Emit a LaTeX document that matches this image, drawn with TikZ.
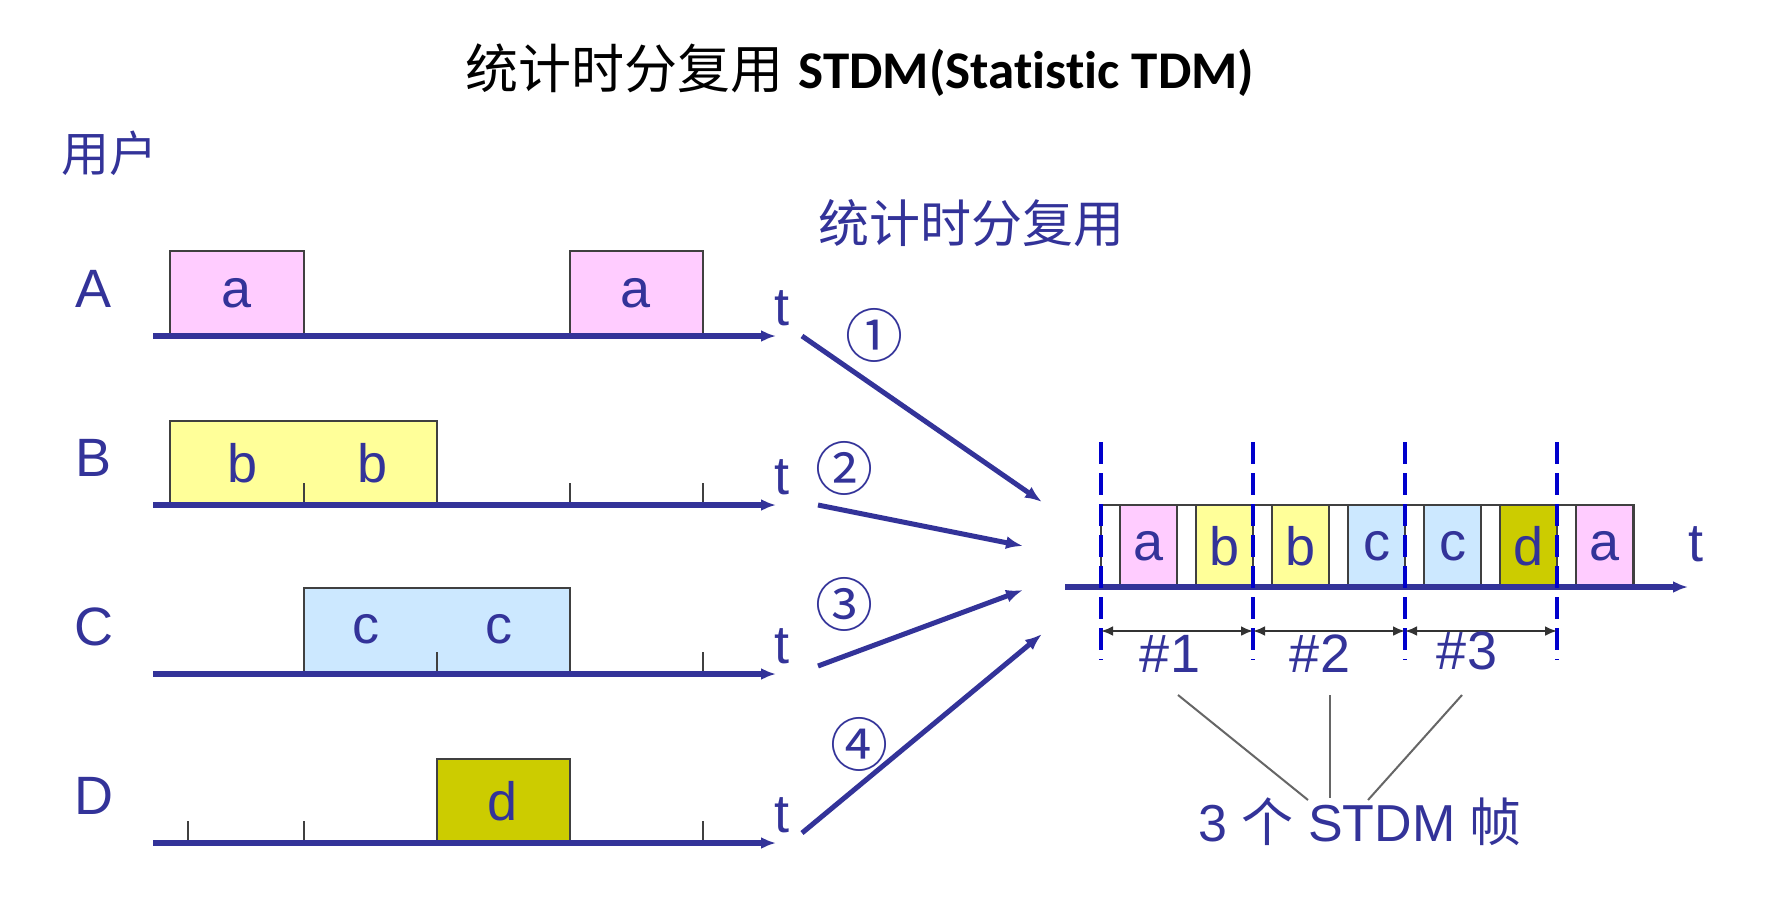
\documentclass[tikz,border=0pt]{standalone}
\usepackage{fontspec}
\setmainfont{Liberation Sans}
\newfontfamily\cjk{Noto Sans CJK SC}
\newfontfamily\titlefont[Ligatures=NoCommon]{Carlito}
\usepackage{tikz}
\usetikzlibrary{arrows.meta}

\definecolor{navy}{RGB}{51,51,153}
\definecolor{dashblue}{RGB}{0,0,204}
\definecolor{pinkA}{RGB}{255,204,255}
\definecolor{yellowB}{RGB}{255,255,153}
\definecolor{blueC}{RGB}{204,232,255}
\definecolor{oliveD}{RGB}{204,204,0}

\tikzset{
  txt/.style={text=navy,inner sep=0pt,font=\fontsize{54}{60}\selectfont},
  circnum/.style={txt,font=\cjk\fontsize{58}{64}\selectfont},
  timeaxis/.style={navy,line width=5.5pt,-{Latex[length=15pt,width=12pt]}},
  feed/.style={navy,line width=5pt,-{Latex[length=17pt,width=13pt]}},
  slot/.style={draw=black!75,line width=1.5pt},
  tickmark/.style={black!75,line width=1.5pt},
  framesep/.style={dashblue,line width=4.5pt,dash pattern=on 22pt off 9pt},
  span/.style={black!80,line width=2.5pt,{Latex[length=12pt,width=10pt]}-{Latex[length=12pt,width=10pt]}},
  lead/.style={black!60,line width=2pt},
}

\begin{document}
\begin{tikzpicture}[x=1pt,y=-1pt]
  \useasboundingbox[fill=white] (0,0) rectangle (1776,910);

  % title
  \node[font=\fontsize{53}{60}\selectfont] (title) at (860,70)
    {{\cjk 统计时分复用} {\titlefont\bfseries STDM(Statistic TDM)}};
  \node[txt,font=\cjk\fontsize{48}{56}\selectfont] (users) at (109,153) {用户};
  \node[txt,font=\cjk\fontsize{51}{56}\selectfont] (stdm) at (971,223) {统计时分复用};

  % user A
  \draw[slot,fill=pinkA] (170,251) rectangle (304,336);
  \draw[slot,fill=pinkA] (570,251) rectangle (703,336);
  \node[txt] (a1) at (237,293) {a};
  \node[txt] (a2) at (636,293) {a};
  % user B
  \draw[slot,fill=yellowB] (170,421) rectangle (437,505);
  \node[txt] (b1) at (243,463) {b};
  \node[txt] (b2) at (373,463) {b};
  \foreach \x in {304,570,703} \draw[tickmark] (\x,505) -- (\x,483);
  % user C
  \draw[slot,fill=blueC] (304,588) rectangle (570,674);
  \node[txt] (c1) at (366,629) {c};
  \node[txt] (c2) at (499,629) {c};
  \foreach \x in {437,703} \draw[tickmark] (\x,674) -- (\x,652);
  % user D
  \draw[slot,fill=oliveD] (437,759) rectangle (570,843);
  \node[txt] (d1) at (503,801) {d};
  \foreach \x in {188,304,703} \draw[tickmark] (\x,843) -- (\x,821);

  \foreach \n/\y in {A/336,B/505,C/674,D/843}{
    \coordinate (\n0) at (153,\y);
    \coordinate (\n1) at (776,\y);
    \draw[timeaxis] (\n0) -- (\n1);
    \node[txt] (lab\n) at (94,\y-47) {\n};
    \node[txt] (t\n) at (782,\y-28) {t};
  }

  % multiplexed line
  \draw[slot] (1101,505) rectangle (1634,587);
  \foreach \i/\c/\l in {0/pinkA/a,1/yellowB/b,2/yellowB/b,3/blueC/c,4/blueC/c,5/oliveD/d,6/pinkA/a}{
    \draw[slot,fill=\c] (1120+76*\i,505) rectangle +(57,82);
    \node[txt] (m\i) at (1148.5+76*\i,546) {\l};
  }
  \coordinate (M0) at (1065,587);
  \coordinate (M1) at (1688,587);
  \draw[timeaxis] (M0) -- (M1);
  \node[txt] (tM) at (1696,544) {t};

  \foreach \k in {0,...,3}{
    \draw[framesep] (1101+152*\k,442) -- (1101+152*\k,660);
    \coordinate (f\k) at (1101+152*\k,631);
  }
  \draw[span] (f0) -- (f1);
  \draw[span] (f1) -- (f2);
  \draw[span] (f2) -- (f3);
  \node[txt] (n1) at (1170,654) {\#1};
  \node[txt] (n2) at (1320,654) {\#2};
  \node[txt] (n3) at (1467,651) {\#3};

  % feeds into the multiplexer
  \coordinate (s1) at (802,336);  \coordinate (e1) at (1042,502);
  \coordinate (s2) at (818,505);  \coordinate (e2) at (1023,546);
  \coordinate (s3) at (818,666);  \coordinate (e3) at (1023,590);
  \coordinate (s4) at (802,833);  \coordinate (e4) at (1042,634);
  \foreach \i in {1,...,4} \draw[feed] (s\i) -- (e\i);
  \node[circnum] (k1) at (874,335) {①};
  \node[circnum] (k2) at (844,468) {②};
  \node[circnum] (k3) at (844,604) {③};
  \node[circnum] (k4) at (859,744) {④};

  % three frames
  \node[txt,font=\fontsize{52}{58}\selectfont] (frames) at (1360,822)
    {3 {\cjk 个} STDM {\cjk 帧}};
  \coordinate (g1) at (1178,695); \coordinate (h1) at (1308,800);
  \coordinate (g2) at (1330,695); \coordinate (h2) at (1330,798);
  \coordinate (g3) at (1462,695); \coordinate (h3) at (1368,800);
  \foreach \i in {1,2,3} \draw[lead] (g\i) -- (h\i);
\end{tikzpicture}
\end{document}
